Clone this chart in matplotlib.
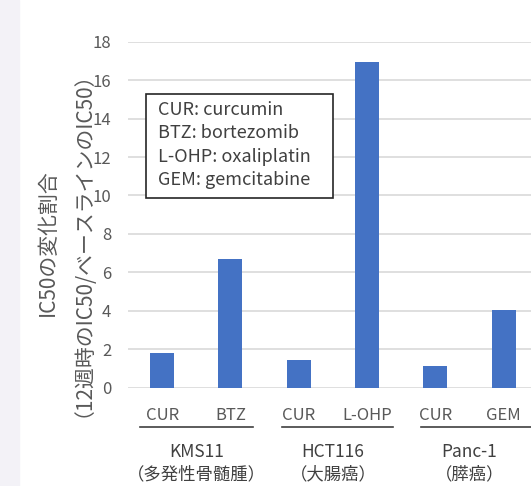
import matplotlib
matplotlib.use("Agg")
import matplotlib.pyplot as plt
from matplotlib.patches import Rectangle

plt.rcParams['font.family'] = ['Noto Sans CJK JP', 'DejaVu Sans']

drugs = ["CUR", "BTZ", "CUR", "L-OHP", "CUR", "GEM"]
ratios = [1.79, 6.67, 1.44, 16.95, 1.13, 4.04]
cell_lines = ["KMS11", "HCT116", "Panc-1"]
cancers = ["（多発性骨髄腫）", "（大腸癌）", "（膵癌）"]
legend_lines = ["CUR: curcumin", "BTZ: bortezomib",
                "L-OHP: oxaliplatin", "GEM: gemcitabine"]

W, H = 531, 486
STEP = 68.3  # px per category
fig = plt.figure(figsize=(W / 100, H / 100), dpi=100)
fig.patches.append(Rectangle((0, 0), 19 / W, 1, transform=fig.transFigure,
                             color="#F3F2F7", zorder=0))

# axes: left edge at px 128, y=0 at px 387.7, y=18 at px 41.7
ax = fig.add_axes([128 / W, 1 - 387.7 / H, (W - 128) / W, (387.7 - 41.7) / H])
x = range(len(drugs))
ax.bar(x, ratios, width=0.35, color="#4472C4", zorder=3)
ax.set_xlim(-0.5, -0.5 + (W - 128) / STEP)
ax.set_ylim(0, 18)
ax.set_yticks(range(0, 19, 2))
ax.grid(axis="y", color="#D9D9D9", linewidth=1.2, zorder=0)
for s in ax.spines.values():
    s.set_visible(False)
ax.tick_params(axis="y", length=0, pad=12, labelsize=12, labelcolor="#595959")
ax.tick_params(axis="x", length=0, pad=14, labelsize=12, labelcolor="#595959")
ax.set_xticks(list(x))
ax.set_xticklabels(drugs)

# y label, two lines
fig.text(48 / W, 1 - 243 / H, "IC50の変化割合", rotation=90, ha="center",
         va="center", fontsize=15, color="#595959")
fig.text(73 / W, 1 - 234 / H, "（12週時のIC50/ベースラインのIC50）", rotation=90,
         ha="center", va="center", fontsize=15, color="#595959")

# group underlines + labels
for (x0, x1) in [(140, 253), (282, 393), (421, 531)]:
    fig.add_artist(plt.Line2D([x0 / W, x1 / W], [1 - 427 / H] * 2,
                              color="#404040", linewidth=1.2))
for i, (cl, ca) in enumerate(zip(cell_lines, cancers)):
    cx = 128 + (2 * i + 1) * STEP
    fig.text(cx / W, 1 - 452 / H, cl, ha="center", va="center",
             fontsize=12.5, color="#404040")
    fig.text(cx / W, 1 - 474 / H, ca, ha="center", va="center",
             fontsize=12.5, color="#404040")

# legend box
fig.patches.append(Rectangle((146 / W, 1 - 198 / H), (333 - 146) / W, (198 - 94.3) / H,
                             transform=fig.transFigure, facecolor="white",
                             edgecolor="#262626", linewidth=1.2, zorder=5))
for k, t in enumerate(legend_lines):
    fig.text(158 / W, 1 - (110 + 23.3 * k) / H, t, ha="left", va="center",
             fontsize=13, color="#404040", zorder=6)

fig.savefig("out.png", dpi=100)
